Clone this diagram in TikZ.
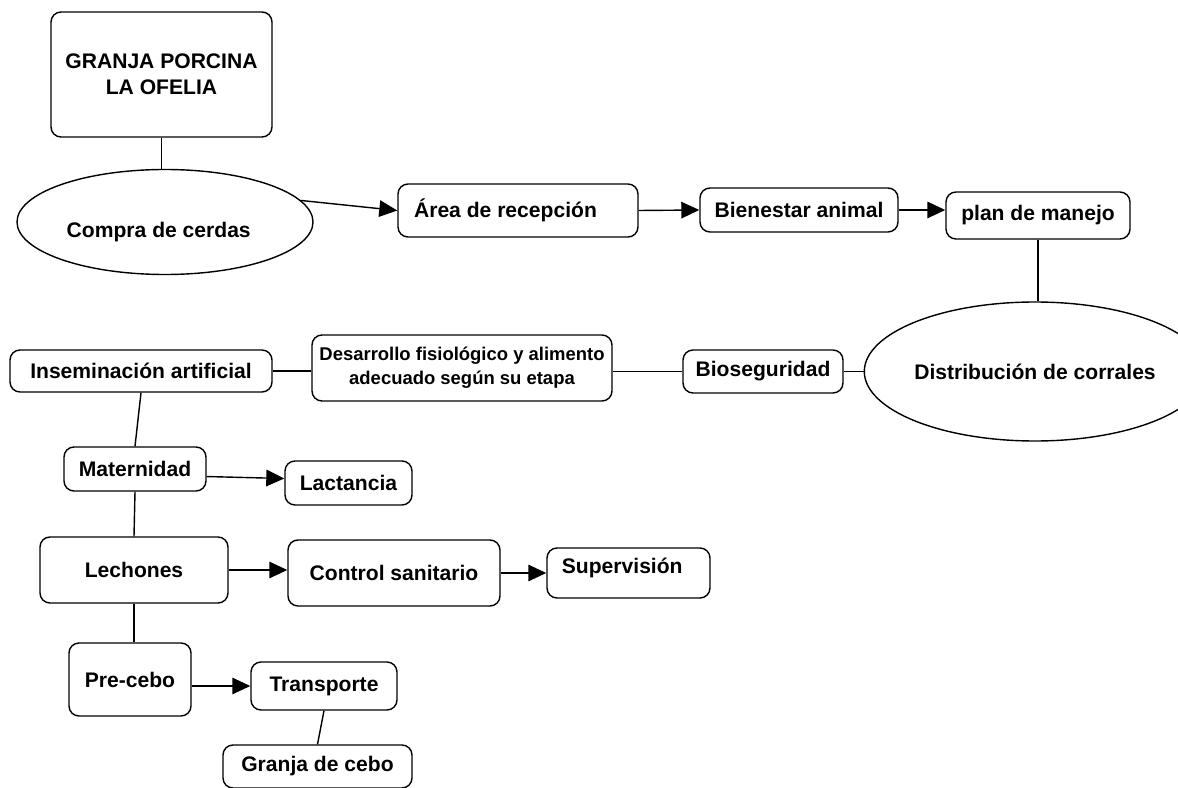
\documentclass[tikz,border=0pt]{standalone}
\usepackage{fontspec}
\setmainfont{Liberation Sans}
\usetikzlibrary{shapes.geometric,arrows.meta}
\begin{document}
\begin{tikzpicture}[x=0.2mm,y=-0.2mm,line width=0.8pt,
	box/.style={draw,rounded corners=2mm,inner sep=0pt,align=center,font=\fontsize{12}{15}\bfseries},
	oval/.style={draw,ellipse,inner sep=0pt,align=center,font=\fontsize{12}{15}\bfseries},
	arr/.style={-{Triangle[length=3.6mm,width=3.3mm]}}]
	\useasboundingbox (0,0) rectangle (1178,788);
	%TOP ROW
	\node[box,minimum width=44.2mm,minimum height=25mm] (granja) at (161.5,74.5) {GRANJA PORCINA\\LA OFELIA};
	\node[oval,minimum width=59.2mm,minimum height=21mm] (compra) at (165,222) {\raisebox{-3.1mm}[0pt][0pt]{\hspace*{-2.5mm}Compra de cerdas}};
	\node[box,minimum width=48mm,minimum height=10.6mm] (area) at (518,210.5) {\hspace*{-5mm}Área de recepción};
	\node[box,minimum width=39.6mm,minimum height=8.8mm] (bienestar) at (799,210) {Bienestar animal};
	\node[box,minimum width=36.8mm,minimum height=9.4mm] (plan) at (1038,215.5) {plan de manejo};
	\node[oval,minimum width=58mm,minimum height=27.8mm] (corrales) at (1035,371.5) {Distribución de corrales};
	%MIDDLE ROW
	\node[box,minimum width=32mm,minimum height=8.6mm] (bioseg) at (763,371.5) {Bioseguridad};
	\node[box,minimum width=60mm,minimum height=13.2mm,font=\fontsize{10.5}{13.7}\bfseries] (desarrollo) at (462,368) {Desarrollo fisiológico y alimento\\adecuado según su etapa};
	\node[box,minimum width=52.4mm,minimum height=8.4mm] (insem) at (141,371) {Inseminación artificial};
	%LEFT COLUMN
	\node[box,minimum width=28.4mm,minimum height=8.8mm] (mater) at (135,469) {Maternidad};
	\node[box,minimum width=25.4mm,minimum height=8.8mm] (lact) at (348.5,483) {Lactancia};
	\node[box,minimum width=37.6mm,minimum height=13.2mm] (lechon) at (134,570) {Lechones};
	\node[box,minimum width=42.4mm,minimum height=13.2mm] (control) at (394,573) {Control sanitario};
	\node[box,minimum width=32.6mm,minimum height=10mm] (superv) at (628.5,573) {\raisebox{0mm}[0pt][0pt]{\hspace*{-2.5mm}Supervisión}};
	\node[box,minimum width=24.4mm,minimum height=14.6mm] (precebo) at (130,679.5) {Pre-cebo};
	\node[box,minimum width=29.2mm,minimum height=9.6mm] (transp) at (324,686) {Transporte};
	\node[box,minimum width=37.8mm,minimum height=8.6mm] (cebo) at (317.5,766.5) {Granja de cebo};
	%CONNECTORS
	\draw (granja.south) -- (granja.south |- compra.north);
	\draw[arr] (compra.9) -- (area.west);
	\draw[arr] (area.east) -- (bienestar.west);
	\draw[arr] (bienestar.east) -- (bienestar.east -| plan.west);
	\draw (plan.south) -- (plan.south |- corrales.north);
	\draw (corrales.west) -- (bioseg.east);
	\draw (bioseg.west) -- (bioseg.west -| desarrollo.east);
	\draw (insem.east) -- (insem.east -| desarrollo.west);
	\draw (insem.south) -- (mater.north);
	\draw[arr] (mater.-6) -- (lact.176);
	\draw (mater.south) -- (lechon.north);
	\draw[arr] (lechon.east) -- (lechon.east -| control.west);
	\draw[arr] (control.east) -- (superv.west);
	\draw (lechon.south) -- (lechon.south |- precebo.north);
	\draw[arr] (transp.west -| precebo.east) -- (transp.west);
	\draw (transp.south) -- (cebo.north);
\end{tikzpicture}
\end{document}
